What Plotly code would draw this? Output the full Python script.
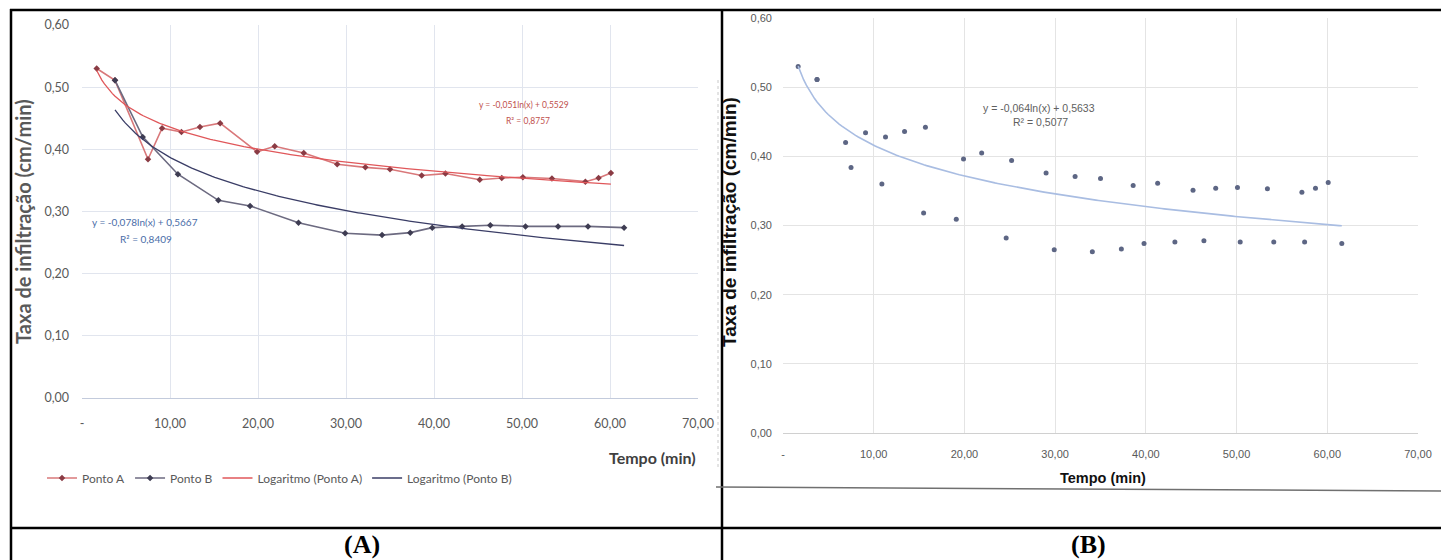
import numpy as np
import plotly.graph_objects as go

# ---------------- data ----------------
tempo_a = [1.67, 3.75, 7.5, 9.1, 11.3, 13.4, 15.7, 19.9, 21.9, 25.2, 29.0,
           32.2, 35.0, 38.6, 41.3, 45.2, 47.7, 50.1, 53.4, 57.2, 58.7, 60.1]
taxa_a = [0.530, 0.511, 0.384, 0.434, 0.428, 0.436, 0.442, 0.396, 0.405, 0.394, 0.376,
          0.371, 0.368, 0.358, 0.361, 0.351, 0.354, 0.355, 0.353, 0.348, 0.354, 0.362]

tempo_b = [3.75, 6.9, 10.9, 15.5, 19.1, 24.6, 29.9, 34.1, 37.3, 39.8, 43.2,
           46.4, 50.4, 54.1, 57.5, 61.6]
taxa_b = [0.511, 0.420, 0.360, 0.318, 0.309, 0.282, 0.265, 0.262, 0.266, 0.274, 0.276,
          0.278, 0.276, 0.276, 0.276, 0.274]

# trend-line coefficients as printed on the chart  (y = a*ln(x) + b)
coef_a = (-0.051, 0.5529)
coef_b = (-0.078, 0.5667)
coef_all = (-0.064, 0.5633)

eq_a = ["y = -0,051ln(x) + 0,5529", "R² = 0,8757"]
eq_b = ["y = -0,078ln(x) + 0,5667", "R² = 0,8409"]
eq_all = ["y = -0,064ln(x) + 0,5633", "R² = 0,5077"]

x_ticks = [0, 10, 20, 30, 40, 50, 60, 70]
x_ticktext = ["-", "10,00", "20,00", "30,00", "40,00", "50,00", "60,00", "70,00"]
y_ticks = [0, 0.1, 0.2, 0.3, 0.4, 0.5, 0.6]
y_ticktext = ["0,00", "0,10", "0,20", "0,30", "0,40", "0,50", "0,60"]


def trend(coef, x0, x1):
    xs = np.linspace(x0, x1, 200)
    return xs, coef[0] * np.log(xs) + coef[1]


W, H = 1441, 560


def px(x):
    return x / W


def py(y):
    return 1 - y / H


fig = go.Figure()

# ---------- panel A ----------
fig.add_trace(go.Scatter(x=tempo_a, y=taxa_a, mode="lines+markers", name="Ponto A",
                         line=dict(color="#d9787a", width=1.6),
                         marker=dict(color="#8a3b44", size=5, symbol="diamond"),
                         xaxis="x", yaxis="y"))
fig.add_trace(go.Scatter(x=tempo_b, y=taxa_b, mode="lines+markers", name="Ponto B",
                         line=dict(color="#6c6a80", width=1.6),
                         marker=dict(color="#3e3c52", size=5, symbol="diamond"),
                         xaxis="x", yaxis="y"))
xa, ya = trend(coef_a, min(tempo_a), max(tempo_a))
fig.add_trace(go.Scatter(x=xa, y=ya, mode="lines", name="Logaritmo (Ponto A)",
                         line=dict(color="#e0575a", width=1.3), xaxis="x", yaxis="y"))
xb, yb = trend(coef_b, min(tempo_b), max(tempo_b))
fig.add_trace(go.Scatter(x=xb, y=yb, mode="lines", name="Logaritmo (Ponto B)",
                         line=dict(color="#3a3d66", width=1.3), xaxis="x", yaxis="y"))

# ---------- panel B ----------
tempo_all = tempo_a + tempo_b
taxa_all = taxa_a + taxa_b
fig.add_trace(go.Scatter(x=tempo_all, y=taxa_all, mode="markers", showlegend=False,
                         marker=dict(color="#5d6684", size=5),
                         xaxis="x2", yaxis="y2"))
xt, yt = trend(coef_all, min(tempo_all), max(tempo_all))
fig.add_trace(go.Scatter(x=xt, y=yt, mode="lines", showlegend=False,
                         line=dict(color="#a9bde2", width=1.6),
                         xaxis="x2", yaxis="y2"))

fontA = "Lato, 'Open Sans', sans-serif"
fontB = "'Liberation Sans', Arial, sans-serif"

fig.update_layout(
    template="none",
    width=W, height=H,
    margin=dict(l=0, r=0, t=0, b=0, pad=0, autoexpand=False),
    paper_bgcolor="white", plot_bgcolor="white",
    showlegend=True,
    legend=dict(orientation="h", x=px(42), xanchor="left", y=py(478), yanchor="middle",
                font=dict(family=fontA, size=12, color="#595959"),
                itemwidth=30, bgcolor="rgba(0,0,0,0)"),
    xaxis=dict(domain=[px(82), px(698)], range=[0, 70], tickvals=x_ticks, ticktext=x_ticktext,
               showgrid=True, gridcolor="#e1e5ee", gridwidth=1, zeroline=False,
               showline=True, linecolor="#c3cbdc", linewidth=1, automargin=False,
               ticks="", ticklabelstandoff=14,
               tickfont=dict(family=fontA, size=12.5, color="#595959"), anchor="y"),
    yaxis=dict(domain=[py(398), py(25)], range=[0, 0.6], tickvals=y_ticks, ticktext=y_ticktext,
               showgrid=True, gridcolor="#e1e5ee", gridwidth=1, zeroline=False, automargin=False,
               showline=False, ticks="", ticklabelstandoff=12,
               tickfont=dict(family=fontA, size=12.5, color="#595959"), anchor="x"),
    xaxis2=dict(domain=[px(783), px(1418)], range=[0, 70], tickvals=x_ticks, ticktext=x_ticktext,
                showgrid=True, gridcolor="#e4e4e4", gridwidth=1, zeroline=False, automargin=False,
                showline=True, linecolor="#d0d0d0", linewidth=1,
                ticks="", ticklabelstandoff=11,
                tickfont=dict(family=fontB, size=11, color="#595959"), anchor="y2"),
    yaxis2=dict(domain=[py(433), py(18)], range=[0, 0.6], tickvals=y_ticks, ticktext=y_ticktext,
                showgrid=True, gridcolor="#e4e4e4", gridwidth=1, zeroline=False, automargin=False,
                showline=False, ticks="", ticklabelstandoff=10,
                tickfont=dict(family=fontB, size=11, color="#595959"), anchor="x2"),
)


def label(text, x, y, font, angle=0):
    return dict(text=text, x=px(x), y=py(y), xref="paper", yref="paper",
                xanchor="center", yanchor="middle", textangle=angle,
                showarrow=False, font=font)


ann = []
# axis titles panel A
ann.append(label("<b>Taxa de infiltração (cm/min)</b>", 23, 222,
                 dict(family=fontA, size=20, color="#595959"), -90))
ann.append(label("<b>Tempo (min)</b>", 652, 457, dict(family=fontA, size=16, color="#404040")))
# axis titles panel B
ann.append(label("<b>Taxa de infiltração (cm/min)</b>", 730, 222,
                 dict(family=fontB, size=19, color="#111111"), -90))
ann.append(label("<b>Tempo (min)</b>", 1103, 478, dict(family=fontB, size=14.5, color="#111111")))
# equations
ann.append(label(eq_a[0], 524, 105, dict(family=fontA, size=8.5, color="#c0504d")))
ann.append(label(eq_a[1], 528, 121, dict(family=fontA, size=8.5, color="#c0504d")))
ann.append(label(eq_b[0], 145, 222, dict(family=fontA, size=10, color="#4a6da8")))
ann.append(label(eq_b[1], 146, 239, dict(family=fontA, size=10, color="#4a6da8")))
ann.append(label(eq_all[0], 1039, 108, dict(family=fontB, size=10.5, color="#606060")))
ann.append(label(eq_all[1], 1040, 122, dict(family=fontB, size=10.5, color="#606060")))
# panel captions
serif = "'Liberation Serif', 'Times New Roman', serif"
ann.append(label("<b>(A)</b>", 362, 544, dict(family=serif, size=26, color="black")))
ann.append(label("<b>(B)</b>", 1088, 544, dict(family=serif, size=26, color="black")))
fig.update_layout(annotations=ann)

# table borders
shapes = []
blk = dict(color="black", width=2.5)
shapes.append(dict(type="line", xref="paper", yref="paper", x0=px(10), x1=1, y0=py(10), y1=py(10), line=blk))
shapes.append(dict(type="line", xref="paper", yref="paper", x0=px(10), x1=1, y0=py(528), y1=py(528), line=blk))
shapes.append(dict(type="line", xref="paper", yref="paper", x0=px(11), x1=px(11), y0=py(9), y1=0, line=blk))
shapes.append(dict(type="line", xref="paper", yref="paper", x0=px(722), x1=px(722), y0=py(9), y1=0, line=blk))
# thin gray line under panel B chart
shapes.append(dict(type="line", xref="paper", yref="paper", x0=px(716), x1=1, y0=py(487), y1=py(491),
                   line=dict(color="#707070", width=1.5)))
# faint dotted chart border right of panel A
shapes.append(dict(type="line", xref="paper", yref="paper", x0=px(718), x1=px(718), y0=py(80), y1=py(470),
                   line=dict(color="#c8c8c8", width=1, dash="dot")))
fig.update_layout(shapes=shapes)

fig.write_html("out.html")
